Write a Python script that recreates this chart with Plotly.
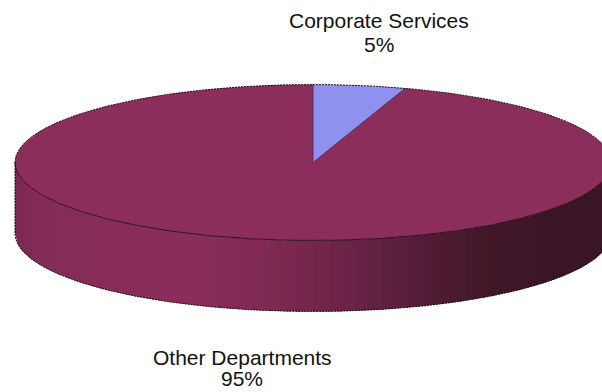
import numpy as np
import plotly.graph_objects as go

# Department shares of the total
categories = ["Corporate Services", "Other Departments"]
shares = [5, 95]
slice_colors = ["#9090EE", "#8B2E5C"]

# Drum side shading, left to right across the pie's width
side_stops = [0.0, 0.06, 0.28, 0.45, 0.62, 0.78, 0.90, 1.0]
side_colors = ["#7A2952", "#852C58", "#8A2D5A", "#7C2950", "#5F2040", "#431829", "#3A1526", "#3A1526"]

WIDTH, HEIGHT = 602, 392
CX, CY, RX, RY, DEPTH = 313, 162.5, 298, 78, 71
OUTLINE = "#1A0A12"


def rim(angle_deg):
    """Point on the top ellipse, angle measured clockwise from 12 o'clock."""
    a = np.radians(angle_deg)
    return CX + RX * np.sin(a), CY - RY * np.cos(a)


def mix(t):
    rgb = [[int(c[i:i + 2], 16) for i in (1, 3, 5)] for c in side_colors]
    vals = [np.interp(t, side_stops, [c[k] for c in rgb]) for k in range(3)]
    return "rgb({:.0f},{:.0f},{:.0f})".format(*vals)


fig = go.Figure()

# Front wall of the drum, built from narrow vertical strips
n_strips = 70
edges = np.linspace(-1, 1, n_strips + 1)
for left, right in zip(edges[:-1], edges[1:]):
    u = np.linspace(left, min(right + 0.006, 1), 5)
    xs = CX + RX * u
    ys = CY + RY * np.sqrt(1 - u ** 2)
    fig.add_trace(go.Scatter(
        x=np.r_[xs, xs[::-1]], y=np.r_[ys, ys[::-1] + DEPTH],
        fill="toself", fillcolor=mix((left + right + 2) / 4),
        mode="none", hoverinfo="skip", showlegend=False))

# Top face: one wedge per category, clockwise from 12 o'clock
start = 0
total = sum(shares)
for name, share, color in zip(categories, shares, slice_colors):
    sweep = 360 * share / total
    ang = np.linspace(start, start + sweep, 240)
    px, py = rim(ang)
    fig.add_trace(go.Scatter(
        x=np.r_[CX, px, CX], y=np.r_[CY, py, CY],
        fill="toself", fillcolor=color, mode="lines",
        line=dict(color=color, width=0), name=name,
        hoverinfo="name", showlegend=False))
    start += sweep

# Wedge edges and the crease between top face and wall
first = 360 * shares[0] / total
ex, ey = rim(np.array([0.0, first]))
fig.add_trace(go.Scatter(x=[ex[0], CX, ex[1]], y=[ey[0], CY, ey[1]], mode="lines",
                         line=dict(color="#4A3468", width=1), hoverinfo="skip", showlegend=False))
cx_, cy_ = rim(np.linspace(90, 270, 300))
fig.add_trace(go.Scatter(x=cx_, y=cy_, mode="lines",
                         line=dict(color="#2A0E1C", width=1), hoverinfo="skip", showlegend=False))

# Dark broken silhouette around the whole drum
top_x, top_y = rim(np.linspace(-90, 90, 300))
bot_x, bot_y = rim(np.linspace(90, 270, 300))
sil_x = np.r_[top_x, CX + RX, bot_x, CX - RX]
sil_y = np.r_[top_y, CY + DEPTH, bot_y + DEPTH, CY]
fig.add_trace(go.Scatter(x=sil_x, y=sil_y, mode="lines",
                         line=dict(color=OUTLINE, width=1, dash="2px,1px"),
                         hoverinfo="skip", showlegend=False))

# Each label is two lines: the category name and its share
label_font = dict(family="Liberation Sans, Arial, sans-serif", size=21, color="#111111")
label_pos = {"Corporate Services": (379, 20, 44), "Other Departments": (242, 357, 378.5)}
for name, share in zip(categories, shares):
    x, y1, y2 = label_pos[name]
    for text, y in ((name, y1), (f"{share}%", y2)):
        fig.add_annotation(x=x, y=y, text=text, showarrow=False, font=label_font,
                           xanchor="center", yanchor="middle")

fig.update_layout(
    width=WIDTH, height=HEIGHT, margin=dict(l=0, r=0, t=0, b=0),
    paper_bgcolor="white", plot_bgcolor="white", showlegend=False,
    xaxis=dict(range=[0, WIDTH], visible=False, fixedrange=True),
    yaxis=dict(range=[HEIGHT, 0], visible=False, fixedrange=True),
)
fig.write_html("out.html", config={"displayModeBar": False})
